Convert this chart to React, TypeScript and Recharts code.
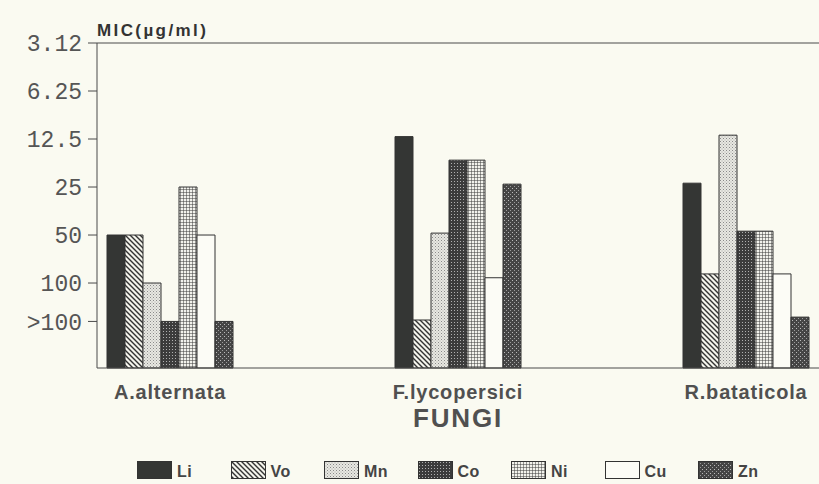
import { BarChart, Bar, XAxis, YAxis, ReferenceLine } from 'recharts'

const fungi = ['A.alternata', 'F.lycopersici', 'R.bataticola']
const metals = ['Li', 'Vo', 'Mn', 'Co', 'Ni', 'Cu', 'Zn']

const li = [3, 5.05, 4.08]
const vo = [3, 1.23, 2.19]
const mn = [2, 3.04, 5.08]
const co = [1.2, 4.56, 3.08]
const ni = [4, 4.56, 3.08]
const cu = [3, 2.11, 2.19]
const zn = [1.2, 4.06, 1.29]

const yTicks = [1.2, 2, 3, 4, 5, 6, 7]
const yLabels = ['>100', '100', '50', '25', '12.5', '6.25', '3.12']

const series: Record<string, number[]> = { Li: li, Vo: vo, Mn: mn, Co: co, Ni: ni, Cu: cu, Zn: zn }

const data = fungi.map((name, i) => {
  const row: Record<string, string | number> = { name }
  metals.forEach(m => { row[m] = series[m][i] })
  return row
})

const fills: Record<string, string> = {
  Li: '#343634',
  Vo: 'url(#pVo)',
  Mn: 'url(#pMn)',
  Co: 'url(#pCo)',
  Ni: 'url(#pNi)',
  Cu: '#fcfcf6',
  Zn: 'url(#pZn)',
}

const ink = '#4a4a4a'
const bg = '#fafaf1'

function Patterns() {
  return (
    <defs>
      <pattern id="pVo" width="5" height="5" patternUnits="userSpaceOnUse">
        <rect width="5" height="5" fill="#f4f4ec" />
        <path d="M0,0L5,5M-1,4L1,6M4,-1L6,1" stroke="#333" strokeWidth="1.4" />
      </pattern>
      <pattern id="pMn" width="3" height="3" patternUnits="userSpaceOnUse">
        <rect width="3" height="3" fill="#e8e8e2" />
        <rect x="0" y="0" width="1" height="1" fill="#8a8a8a" />
        <rect x="1.5" y="1.5" width="1" height="1" fill="#a8a8a8" />
      </pattern>
      <pattern id="pCo" width="3" height="3" patternUnits="userSpaceOnUse">
        <rect width="3" height="3" fill="#3c3c3c" />
        <rect x="1" y="1" width="1" height="1" fill="#b0b0b0" />
      </pattern>
      <pattern id="pNi" width="3" height="3" patternUnits="userSpaceOnUse">
        <rect width="3" height="3" fill="#f2f2ec" />
        <path d="M0,0H3M0,0V3" stroke="#3a3a3a" strokeWidth="1" />
      </pattern>
      <pattern id="pZn" width="4" height="4" patternUnits="userSpaceOnUse">
        <rect width="4" height="4" fill="#454545" />
        <rect x="0" y="0" width="1" height="1" fill="#bcbcbc" />
        <rect x="2" y="2" width="1" height="1" fill="#9c9c9c" />
      </pattern>
    </defs>
  )
}

export default function App() {
  return (
    <div style={{ position: 'absolute', left: 0, top: 0, width: 819, height: 484, background: bg, overflow: 'hidden' }}>
      <BarChart
        width={819}
        height={484}
        data={data}
        margin={{ top: 43, right: 0, left: 0, bottom: 86 }}
        barGap={0}
        barSize={18}
      >
        <Patterns />
        <XAxis
          dataKey="name"
          height={30}
          interval={0}
          padding={{ left: -71, right: -71 }}
          axisLine={{ stroke: ink }}
          tickLine={false}
          tickSize={0}
          tickMargin={17}
          tick={{ fill: '#505050', fontSize: 20, fontWeight: 'bold', fontFamily: 'Liberation Sans', letterSpacing: 0.8 }}
        />
        <YAxis
          type="number"
          width={97}
          domain={[0.23, 7]}
          ticks={yTicks}
          interval={0}
          tickFormatter={(v: number) => yLabels[yTicks.indexOf(v)]}
          tickSize={9}
          tickMargin={6}
          axisLine={{ stroke: ink }}
          tickLine={{ stroke: ink }}
          tick={{ fill: '#555', fontSize: 23, fontFamily: 'Liberation Mono' }}
        />
        <ReferenceLine y={7} stroke={ink} />
        {metals.map(m => (
          <Bar key={m} dataKey={m} fill={fills[m]} stroke="#333" strokeWidth={1} isAnimationActive={false} />
        ))}
      </BarChart>

      <div style={{ position: 'absolute', left: 97, top: 22, fontFamily: 'Liberation Sans', fontWeight: 'bold', fontSize: 17, lineHeight: 1, letterSpacing: 2.4, color: '#333' }}>
        MIC(µg/ml)
      </div>
      <div style={{ position: 'absolute', left: 398, top: 405, width: 120, textAlign: 'center', fontFamily: 'Liberation Sans', fontWeight: 'bold', fontSize: 26, lineHeight: 1, letterSpacing: 1.8, color: '#505050' }}>
        FUNGI
      </div>

      <div style={{ position: 'absolute', left: 137, top: 461, display: 'flex' }}>
        {metals.map(m => (
          <div key={m} style={{ width: 93.5, display: 'flex', alignItems: 'flex-start' }}>
            <svg width={35} height={18} style={{ display: 'block' }}>
              <rect x={0.5} y={0.5} width={34} height={17} fill={fills[m]} stroke="#333" strokeWidth={1} />
            </svg>
            <span style={{ marginLeft: 5, paddingTop: 2, fontFamily: 'Liberation Sans', fontWeight: 'bold', fontSize: 16, lineHeight: '18px', letterSpacing: 0.5, color: '#444' }}>
              {m}
            </span>
          </div>
        ))}
      </div>
    </div>
  )
}
